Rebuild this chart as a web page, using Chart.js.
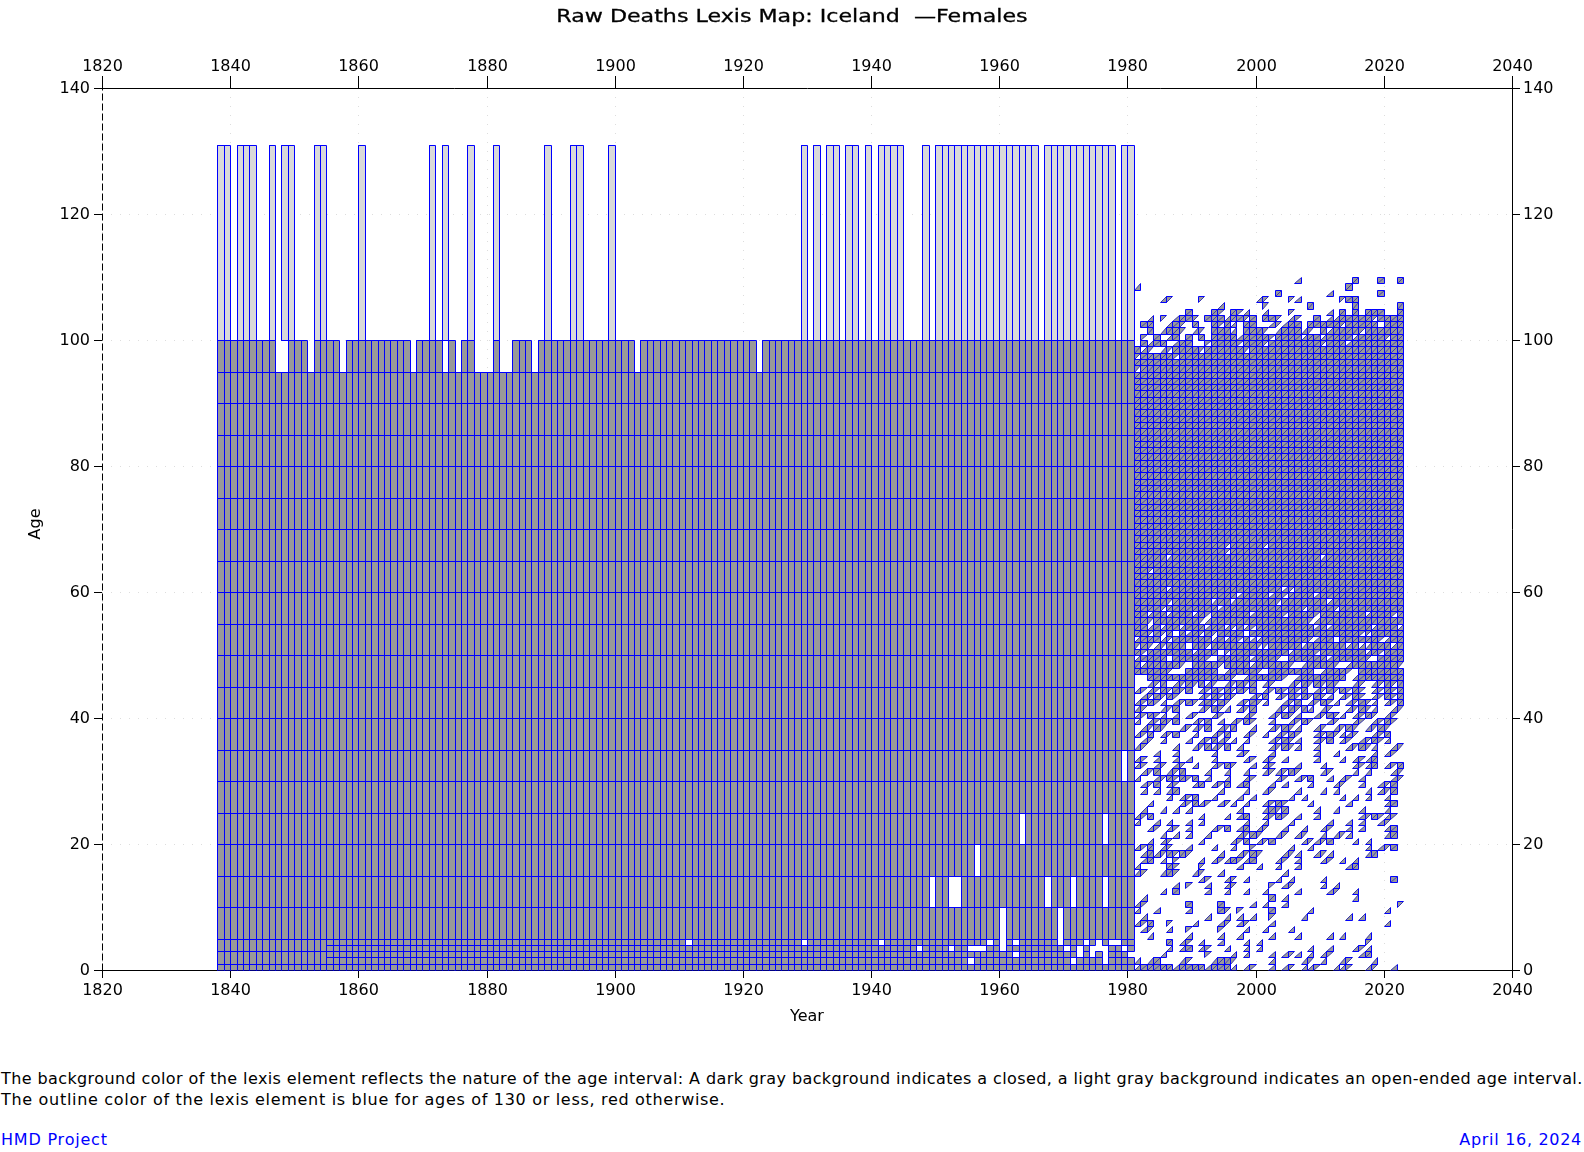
<!DOCTYPE html>
<html>
<head>
<meta charset="utf-8">
<title>Raw Deaths Lexis Map: Iceland</title>
<script src="https://cdn.jsdelivr.net/npm/chart.js@4"></script>
<style>
body { margin: 0; background: #fff; font-family: "DejaVu Sans", sans-serif; font-size: 16px; }
#page { position: relative; width: 1584px; height: 1152px; overflow: hidden; }
canvas { position: absolute; left: 0; top: 0; }
.note { position: absolute; left: 1px; white-space: nowrap; color: #000; }
.blue { color: #0000ff; }
#title { position: absolute; left: 0; width: 1584px; top: 5px; text-align: center; white-space: nowrap; font-size: 18px; color: #000;
    transform: scaleX(1.23); -webkit-text-stroke: 0.3px #000; }
</style>
</head>
<body>
<div id="page">
<canvas id="lexis" width="1584" height="1060"></canvas>
<div id="title">Raw Deaths Lexis Map: Iceland &nbsp;&#8212;Females</div>
<div class="note" style="top:1069px;letter-spacing:0.4px">The background color of the lexis element reflects the nature of the age interval: A dark gray background indicates a closed, a light gray background indicates an open-ended age interval.</div>
<div class="note" style="top:1090px;letter-spacing:0.69px">The outline color of the lexis element is blue for ages of 130 or less, red otherwise.</div>
<div class="note blue" style="top:1130px;letter-spacing:0.8px">HMD Project</div>
<div class="note blue" style="top:1130px;left:auto;right:2px;letter-spacing:0.7px">April 16, 2024</div>
</div>
<script>
// tick labels
const yearTicks = [1820, 1840, 1860, 1880, 1900, 1920, 1940, 1960, 1980, 2000, 2020, 2040];
const ageTicks = [0, 20, 40, 60, 80, 100, 120, 140];

// years with an open ended 100-131 element
const openYears = [1838, 1839, 1841, 1842, 1843, 1846, 1848, 1849, 1853, 1854, 1860, 1871, 1873, 1877, 1881, 1889, 1893, 1894, 1899,
    1929, 1931, 1933, 1934, 1936, 1937, 1939, 1941, 1942, 1943, 1944, 1948,
    1950, 1951, 1952, 1953, 1954, 1955, 1956, 1957, 1958, 1959, 1960, 1961, 1962, 1963, 1964, 1965,
    1967, 1968, 1969, 1970, 1971, 1972, 1973, 1974, 1975, 1976, 1977, 1979, 1980];

// closed elements, five year bands up to 100, finer at the bottom
const fiveYearBands = [5, 10, 15, 20, 25, 30, 35, 40, 45, 50, 55, 60, 65, 70, 75, 80, 85, 90, 95];
const earlyBands = [[0, 1], [1, 3], [3, 5]];
const laterBands = [[0, 1], [1, 2], [2, 3], [3, 4], [4, 5]];

// years with no deaths in the band starting at that age
const empty95 = [1847, 1848, 1852, 1857, 1868, 1873, 1875, 1878, 1879, 1880, 1882, 1883, 1887, 1903, 1922];
const empty30 = [1979];
const empty20 = [1963, 1976];
const empty15 = [1956];
const empty10 = [1949, 1952, 1953, 1967, 1971, 1976];
const empty5 = [1960, 1969];
const empty4 = [1911, 1929, 1941, 1958, 1960, 1962, 1969, 1973, 1975, 1977, 1978];
const empty3 = [1947, 1952, 1955, 1956, 1957, 1960, 1970, 1972, 1974, 1975, 1976, 1979];
const empty2 = [1962, 1972, 1974, 1976, 1980];
const empty1 = [1955, 1971, 1976];

// 1981-2022 triangles, one string per age from 0, one char per year
// # both triangles, L lower only, U upper only, . none
const FULL = "##########################################";
const triangleRows = [
    "L#####L####L###L.LU..L.LU.LLU..LLU..LU..L.",
    "L.L#...LU...L##U.....L....LU.L..LU...L....",
    "....L......U...L.L...L.LUL.L.LU....L#.....",
    ".....L.L#.LU..L..L.L.......L..L...LUL.....",
    ".....#.LU.L..L...L.L................U.....",
    "..L.....L....L..L....L...L....L.L...L.....",
    ".LU..L..U....U...L..L...L.................",
    "LU#..U...L...LU.LU...L.................L..",
    ".L.........L..L.L.L..U....L......L.L......",
    "L..L....L....#U.U....#.....L...........L..",
    "LU......#....#....L.L..L.................U",
    ".L...................#.L..........L.......",
    "....L.#....L..L..L..L....L....LU..L.......",
    "......L.U..L..LU.....U.LU....L.L..........",
    "..........LU..LU.L....L.L....L..........#.",
    "LU..L#U..LU..L.........L..................",
    "L....#U...U.....L..L..L..L.......L#.......",
    ".L#.L.U...L.LUL#UL#...LU.L...LU.L.L.......",
    ".L#LU#U#U....L..LU#U...LUL..LUL.....L#....",
    "LU#.LU..L...L..L..U.....L..L........L.LU#.",
    "..L.LU....L....LU#.LU#....LULU#...L.L.....",
    "....L.L.L..L....LU#U..LU.LU..L.LUL.....L#.",
    "..LU.LU.L...LU#.L#.LU..L..L..LU..L.L...L#.",
    "L..L.L..L.L......L..L...L.....L..L.L..LU..",
    "LU#.......L...L.L#..LU#U.L..L......LU#ULU.",
    ".L..L.L.L.......L...L#U#....L..L...L...L..",
    "..L....LU#LU.LUL.L..LU#U...L.....L.....L#.",
    ".....L.LU#..L...L.L.....L.L.....L.L.L..L..",
    ".L.L.L#......L...L..LU...L...L.L....L.LU#.",
    ".LU#.LU..L#.LU#.L#...L.L...L...LU..L..LU#.",
    "L..LU#U#U#.L..L..LU...LU.LU#..L.LU.L....LU",
    ".LU#.LU#...L..L..L..LULU#U...LU...L.L...LU",
    "LU.LU.LU.L..LU#U..L.LU...L...L....LUL#.LU#",
    "LU.L..L.L...L....LU.LU.L....L...L.LUL#....",
    "...L..L.....L...LU...L......L..L.....L.LU.",
    "LU....L..LU#LU#.L....LU#UL..L....LU#UL..LU",
    ".LU.L...L.LU#LUL.L...LU#UL..LU#.LU.LU#UL..",
    "LU#.LU#..L..LU#..LU.L.LU#U..LU#ULLU..LU#..",
    ".LU#U..LULU#.LU#..L..LU#UL..LU.LU#U.LU#U..",
    "L.LU#U#..LU#.L.LU#U..L..LU#U..LU..LU.LU#U.",
    "LU#UL.L.LU..LU...LU..LU#UL..LU#UL.LU#U.LU.",
    "LU..LU#...LU#UL.LU#...LU#U#L.LU..LU#UL..LU",
    "LU#UL.LU#UL#U#U.LU#UL..LU#.LU#UL.LU#UL.LU#",
    ".LU#U#U...LU#U#U..LU#.LU#U#U#UL.LU#U.LU#U#",
    "LULU#U#U#.LU#U#U#U#.LU#U#U#.LU#U#U#U.LU#U#",
    "..LU#.LU#U#LU.LU#U#.LU..LU#U#U#U..LU.LU#U#",
    "..#############U.L#####U.L#######.L#######",
    "#####U..#####.L####U.#######.L###U.#######",
    "#L#####U.####U####L#####U.L####U.L#######U",
    "L####.#####U.#####L###U.######L#####U.####",
    "#U#######L###.U#########L###U#######L#U###",
    "U#ULU###.##U#######UU#####L######L#LL###L#",
    "L###LU######L#L#U#LL#######UL##.######UL##",
    "##U#U#.#L#U#U####.#################UU#####",
    "##L#L##L###L##LU#LU#########L#L######L###L",
    "##U#######UL###############UL#############",
    "##L##L###L#U######L####U####U#######L###U#",
    "####U########L############U####U##########",
    "#####U######L##L######U#######L###########",
    "################L####L#U####L#############",
    "#####L#################LU#################",
    FULL, FULL,
    "##U#######################################",
    FULL,
    "#####L#######################L############",
    "##############U###########################",
    "##############U#####U#####################",
    FULL, FULL, FULL, FULL, FULL, FULL, FULL, FULL, FULL, FULL, FULL, FULL, FULL, FULL,
    FULL, FULL, FULL, FULL, FULL, FULL, FULL, FULL, FULL, FULL, FULL, FULL, FULL,
    "U#########################################",
    FULL,
    "U#####U###################################",
    "#LU.LU####U######U########################",
    ".#L##.L##..U####U###U########U###L########",
    ".U.#.L#.#.#.####L####U####L##L####L####U##",
    "..#.L##U.LU.###L.###U.L###LU.#L####U######",
    ".##..L#U.#..#U#L.##..LUL##.#####U#####.###",
    "..L.U.L##U.###L##U#.##U.LU..#.LL#####U####",
    "........#...#U.#UL..L...U.....L.#.#.###..#",
    ".............L......U......#......#......#",
    "....LU....U........LU...UL......U##.......",
    "......................#.......L.......#...",
    "L................................#........",
    ".........................L........#...#..#"
];

// scale that lands on whole pixels so the one pixel outlines stay crisp
class SnapScale extends Chart.LinearScale {
    getPixelForValue(value) {
        const p = super.getPixelForValue(value);
        return isNaN(p) ? p : Math.round(p) + 0.5;
    }
}
SnapScale.id = 'snap';
SnapScale.defaults = Chart.LinearScale.defaults;
Chart.register(SnapScale);

const gap = { x: null, y: null };
var datasets = [];
var rectOutline = [];
var triangleEdges = [];
var diagonals = [];

function fillSet(points, target, color) {
    return { data: points, fill: { value: target }, backgroundColor: color, borderWidth: 0, pointRadius: 0, order: 3 };
}

// one fill dataset per age band, one shared outline
function addBand(years, lo, hi, color) {
    var top = [];
    years.forEach(function (y) {
        top.push({ x: y, y: hi }, { x: y + 1, y: hi }, gap);
        rectOutline.push({ x: y, y: lo }, { x: y + 1, y: lo }, { x: y + 1, y: hi }, { x: y, y: hi }, { x: y, y: lo }, gap);
    });
    datasets.push(fillSet(top, lo, color));
}

function yearRange(from, to, skip) {
    var out = [];
    for (var y = from; y <= to; y++) {
        if (!skip || skip.indexOf(y) < 0) out.push(y);
    }
    return out;
}

const emptyByAge = { 1: empty1, 2: empty2, 3: empty3, 4: empty4, 5: empty5, 10: empty10, 15: empty15, 20: empty20, 30: empty30, 95: empty95 };

addBand(openYears, 100, 131, '#d9d9d9');
fiveYearBands.forEach(function (lo) {
    addBand(yearRange(1838, 1980, emptyByAge[lo]), lo, lo + 5, '#999999');
});
earlyBands.forEach(function (b) {
    addBand(yearRange(1838, 1854), b[0], b[1], '#999999');
});
laterBands.forEach(function (b) {
    addBand(yearRange(1855, 1980, emptyByAge[b[0]]), b[0], b[1], '#999999');
});

// triangles below the diagonal fill down to the age, above it up to age + 1
triangleRows.forEach(function (row, age) {
    var lower = [];
    var upper = [];
    for (var i = 0; i < 42; i++) {
        var c = row.charAt(i);
        var y = 1981 + i;
        if (c === 'L' || c === '#') {
            lower.push({ x: y, y: age }, { x: y + 1, y: age + 1 }, gap);
            triangleEdges.push({ x: y, y: age }, { x: y + 1, y: age }, { x: y + 1, y: age + 1 }, gap);
        }
        if (c === 'U' || c === '#') {
            upper.push({ x: y, y: age }, { x: y + 1, y: age + 1 }, gap);
            triangleEdges.push({ x: y, y: age }, { x: y, y: age + 1 }, { x: y + 1, y: age + 1 }, gap);
        }
        if (c !== '.') {
            diagonals.push({ x: y, y: age }, { x: y + 1, y: age + 1 }, gap);
        }
    }
    if (lower.length) datasets.push(fillSet(lower, age, '#999999'));
    if (upper.length) datasets.push(fillSet(upper, age + 1, '#999999'));
});

datasets.push({ data: diagonals, fill: false, borderColor: '#3a3ab0', borderWidth: 1, pointRadius: 0, order: 2 });
datasets.push({ data: rectOutline, fill: false, borderColor: '#0000ff', borderWidth: 1, pointRadius: 0, order: 1 });
datasets.push({ data: triangleEdges, fill: false, borderColor: '#0000ff', borderWidth: 1, pointRadius: 0, order: 1 });
// the left frame line is dashed in the map
datasets.push({ data: [{ x: yearTicks[0], y: ageTicks[0] }, { x: yearTicks[0], y: ageTicks[7] }], fill: false, borderColor: '#000', borderWidth: 1, borderDash: [7, 3], pointRadius: 0, order: 0 });

const tickFont = { family: '"DejaVu Sans"', size: 16 };

function axis(position, ticks, tickLen, pad, fit, extra) {
    return Object.assign({
        type: 'snap',
        position: position,
        afterBuildTicks: function (s) { s.ticks = ticks.map(function (v) { return { value: v }; }); },
        ticks: { font: tickFont, color: '#000', padding: pad, stepSize: 20, maxRotation: 0, autoSkip: false, callback: function (v) { return String(v); } },
        grid: { drawOnChartArea: false, tickLength: tickLen, tickColor: '#000', tickBorderDash: [] },
        border: { color: '#000', width: 1 },
        afterFit: fit
    }, extra);
}

const dotted = { color: '#dddddd', lineWidth: 1, tickLength: 8, tickColor: '#000', tickBorderDash: [] };

new Chart(document.getElementById('lexis'), {
    type: 'line',
    data: { datasets: datasets },
    options: {
        responsive: false,
        animation: false,
        events: [],
        spanGaps: false,
        layout: { padding: 0 },
        plugins: {
            legend: { display: false },
            tooltip: { enabled: false }
        },
        scales: {
            x: axis('bottom', yearTicks, 8, 3, function (s) { s.height = 90; }, {
                suggestedMin: 1820, suggestedMax: 2040, grid: dotted,
                border: { color: '#000', width: 1, dash: [1, 8] },
                title: { display: true, text: 'Year', color: '#000', font: tickFont, padding: { top: 0, bottom: 34 } }
            }),
            x2: axis('top', yearTicks, 12, 0, function (s) { s.height = 88; }, { min: 1820, max: 2040 }),
            y: axis('left', ageTicks, 8, 4, function (s) { s.width = 102; }, {
                suggestedMin: 0, suggestedMax: 140, grid: dotted,
                border: { display: false, dash: [1, 8] },
                title: { display: true, text: '  Age', color: '#000', font: tickFont, padding: { top: 26, bottom: 0 } }
            }),
            y2: axis('right', ageTicks, 8, 3, function (s) { s.width = 72; }, { min: 0, max: 140 })
        }
    }
});
</script>
</body>
</html>
